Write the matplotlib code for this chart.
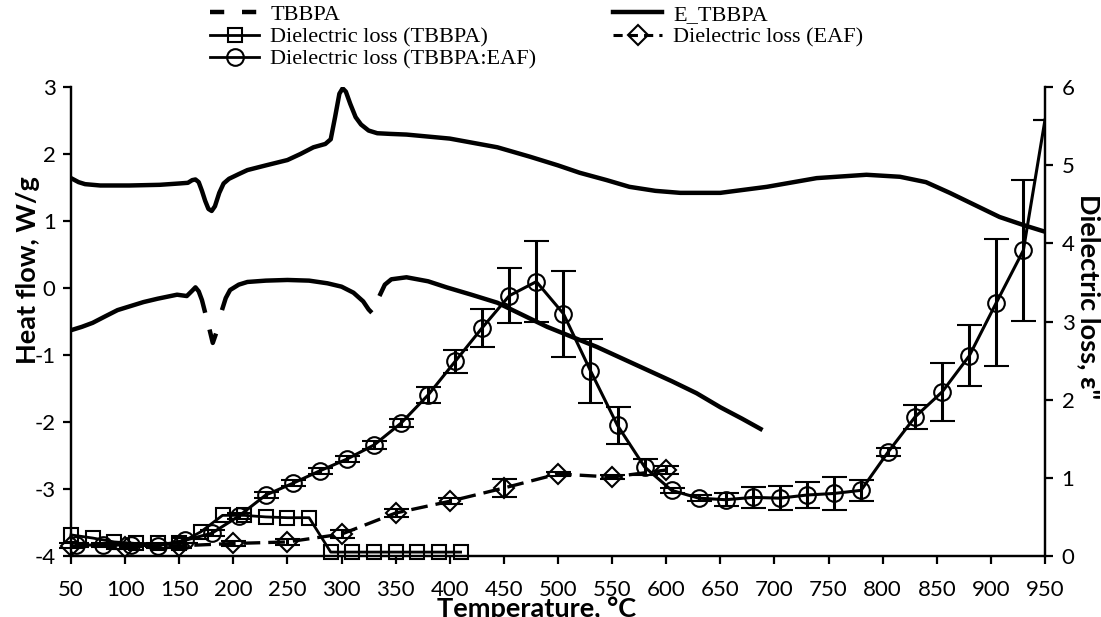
import numpy as np
import matplotlib.pyplot as plt
from matplotlib.lines import Line2D

plt.rcParams['axes.unicode_minus'] = False

# DSC heat flow curves (left axis, W/g)
e_tbbpa_x = [50, 57, 63, 77, 104, 132, 150, 158, 162, 165, 168, 171, 174, 177, 180, 183,
             187, 191, 196, 205, 213, 230, 250, 262, 274, 285, 290, 294, 298, 301, 304,
             308, 313, 318, 325, 333, 345, 360, 400, 444, 474, 500, 520, 545, 566, 590,
             613, 650, 693, 739, 785, 816, 840, 862, 885, 908, 930, 950]
e_tbbpa_y = [1.64, 1.58, 1.55, 1.53, 1.53, 1.54, 1.56, 1.57, 1.61, 1.62, 1.58, 1.45, 1.30,
             1.18, 1.15, 1.22, 1.42, 1.56, 1.63, 1.70, 1.76, 1.83, 1.91, 2.00, 2.10, 2.15,
             2.22, 2.55, 2.90, 2.98, 2.93, 2.75, 2.55, 2.44, 2.35, 2.31, 2.30, 2.29, 2.23,
             2.10, 1.96, 1.83, 1.72, 1.61, 1.51, 1.45, 1.42, 1.42, 1.51, 1.64, 1.69, 1.66,
             1.58, 1.42, 1.24, 1.06, 0.94, 0.84]

# TBBPA curve, gaps where the long dash pattern breaks the line
tbbpa_x = [50, 60, 70, 82, 93, 105, 117, 130, 148, 157, 162, 165, 168, 171, 174, np.nan,
           178, 181, 184, np.nan, 189.5, 193, 197, 205, 213, 230, 250, 270, 287, 300, 311,
           320, 325, 328, np.nan, 335, 340, 346, 360, 380, 397, 420, 444, 467, 490, 513,
           536, 559, 582, 605, 628, 650, 670, 689]
tbbpa_y = [-0.63, -0.58, -0.52, -0.42, -0.33, -0.27, -0.21, -0.16, -0.10, -0.12, -0.04,
           0.01, -0.05, -0.18, -0.37, np.nan, -0.62, -0.82, -0.68, np.nan, -0.33, -0.15,
           -0.03, 0.05, 0.09, 0.11, 0.12, 0.11, 0.07, 0.02, -0.07, -0.20, -0.32, -0.37,
           np.nan, -0.12, 0.05, 0.13, 0.16, 0.10, 0.01, -0.10, -0.22, -0.40, -0.58, -0.73,
           -0.88, -1.05, -1.22, -1.39, -1.57, -1.78, -1.95, -2.12]

# dielectric loss (right axis)
dl_tbbpa_x = [50, 70, 90, 110, 130, 150, 170, 190, 210, 230, 250, 270, 290, 310, 330,
              350, 370, 390, 410]
dl_tbbpa_y = [0.27, 0.23, 0.18, 0.16, 0.16, 0.16, 0.31, 0.52, 0.52, 0.50, 0.49, 0.49,
              0.05, 0.05, 0.05, 0.05, 0.05, 0.05, 0.05]

dl_eaf_x = [50, 100, 150, 200, 250, 300, 350, 400, 450, 500, 550, 600]
dl_eaf_y = [0.13, 0.12, 0.13, 0.16, 0.18, 0.28, 0.55, 0.70, 0.87, 1.05, 1.01, 1.10]
dl_eaf_err = [0.03, 0.03, 0.03, 0.03, 0.04, 0.05, 0.05, 0.04, 0.12, 0.03, 0.03, 0.05]

dl_mix_x = [55, 80, 105, 130, 155, 180, 205, 230, 255, 280, 305, 330, 355, 380, 405,
            430, 455, 480, 505, 530, 555, 580, 605, 630, 655, 680, 705, 730, 755, 780,
            805, 830, 855, 880, 905, 930, 950]
dl_mix_y = [0.14, 0.14, 0.14, 0.13, 0.20, 0.29, 0.51, 0.78, 0.93, 1.09, 1.24, 1.42,
            1.70, 2.06, 2.49, 2.92, 3.33, 3.51, 3.10, 2.37, 1.67, 1.14, 0.84, 0.74, 0.72,
            0.75, 0.74, 0.78, 0.80, 0.84, 1.33, 1.78, 2.10, 2.56, 3.24, 3.91, 5.58]
dl_mix_err = [0.03, 0.03, 0.03, 0.03, 0.03, 0.04, 0.04, 0.04, 0.04, 0.04, 0.04, 0.05,
              0.05, 0.10, 0.15, 0.24, 0.35, 0.52, 0.55, 0.41, 0.24, 0.10, 0.03, 0.04,
              0.08, 0.13, 0.15, 0.17, 0.21, 0.13, 0.05, 0.15, 0.37, 0.39, 0.81, 0.90, 0]

fig = plt.figure(figsize=(11.01, 6.17), dpi=100)
ax = fig.add_axes([71 / 1101, 61 / 617, 974 / 1101, 469 / 617])
ax2 = ax.twinx()

ax.plot(e_tbbpa_x, e_tbbpa_y, color='black', lw=3.2, solid_capstyle='butt')
ax.plot(tbbpa_x, tbbpa_y, color='black', lw=3.2, solid_capstyle='butt')

ax2.plot(dl_tbbpa_x, dl_tbbpa_y, color='black', lw=2, marker='s', ms=10,
         mfc='none', mec='black', mew=1.5, clip_on=False)
ax2.errorbar(dl_eaf_x, dl_eaf_y, yerr=dl_eaf_err, color='black', lw=2.4,
             ls=(0, (5, 2.4)), marker='D', ms=10.5, mfc='none', mec='black', mew=1.5,
             ecolor='black', elinewidth=2.2, capsize=9, capthick=2, clip_on=False)
ax2.errorbar(dl_mix_x, dl_mix_y, yerr=dl_mix_err, color='black', lw=2.2, marker='o',
             ms=12, mfc='none', mec='black', mew=1.5, markevery=slice(0, 36),
             ecolor='black', elinewidth=2.2, capsize=9, capthick=2)

for a in (ax, ax2):
    a.set_xlim(50, 950)
    a.spines['top'].set_visible(False)
    for s in a.spines.values():
        s.set_linewidth(1.6)
    a.tick_params(direction='out', length=6, width=1.6, labelsize=16)
ax.set_ylim(-4, 3)
ax2.set_ylim(0, 6)
ax.set_xticks(np.arange(50, 951, 50))
ax.set_yticks(np.arange(-4, 4, 1))
ax2.set_yticks(np.arange(0, 7, 1))
ax.tick_params(axis='x', pad=11)
ax.tick_params(axis='y', pad=5)
ax2.tick_params(axis='y', pad=6)
for lab in ax.get_xticklabels() + ax.get_yticklabels() + ax2.get_yticklabels():
    lab.set_fontfamily('Lato')

fig.text(28 / 1101, 1 - 270 / 617, 'Heat flow, W/g', rotation=90, ha='center',
         va='center', fontsize=19.5, fontweight='bold', family='Lato')
fig.text(1089 / 1101, 1 - 297 / 617, 'Dielectric loss, ε"', rotation=-90, ha='center',
         va='center', fontsize=19.5, fontweight='bold', family='Lato')
fig.text(537 / 1101, 1 - 609 / 617, 'Temperature, °C', ha='center', va='center',
         fontsize=19.5, fontweight='bold', family='Lato')

handles = [
    Line2D([], [], color='black', lw=3.2, ls=(0, (3.2, 4))),
    Line2D([], [], color='black', lw=2, marker='s', ms=10, mfc='none', mew=1.5),
    Line2D([], [], color='black', lw=2, marker='o', ms=12, mfc='none', mew=1.5),
    Line2D([], [], color='black', lw=3.2),
    Line2D([], [], color='black', lw=2.2, ls=(0, (3, 2)), marker='D', ms=10,
           mfc='none', mew=1.5),
]
labels = ['TBBPA', 'Dielectric loss (TBBPA)', 'Dielectric loss (TBBPA:EAF)',
          'E_TBBPA', 'Dielectric loss (EAF)']
fig.legend(handles, labels, loc='upper left', bbox_to_anchor=(197 / 1101, 1.014),
           ncol=2, frameon=False, prop={'family': 'Liberation Serif', 'size': 16},
           handlelength=2.2, handletextpad=0.5, columnspacing=3.45, labelspacing=0.08,
           borderaxespad=0.2)

fig.savefig('out.png', dpi=100)
